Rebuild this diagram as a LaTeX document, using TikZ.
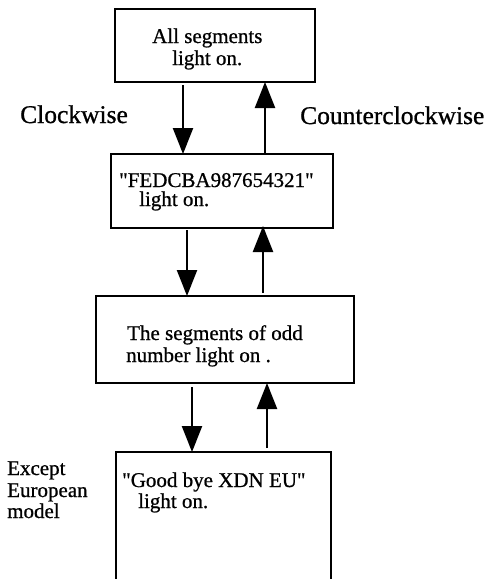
\documentclass[tikz,border=0pt]{standalone}
\usepackage{fontspec}
\setmainfont{Liberation Serif}[FakeBold=0.8,Ligatures=TeXOff]
\usetikzlibrary{arrows.meta,calc}
\newcommand{\sq}{\symbol{34}}
\begin{document}
\begin{tikzpicture}[x=1pt,y=-1pt,
  box/.style={draw,line width=2.6pt,inner sep=0pt,outer sep=0pt},
  txt/.style={anchor=base west,inner sep=0pt,font=\fontsize{21}{23}\selectfont},
  lbl/.style={anchor=base west,inner sep=0pt,font=\fontsize{25.5}{28}\selectfont},
  arr/.style={line width=2.4pt,-{Triangle[length=26pt,width=20pt]}}]
\clip (0,0) rectangle (496,579);
% boxes
\node[box,minimum width=200pt,minimum height=73pt] (b1) at (215,45.5) {};
\node[box,minimum width=222pt,minimum height=74pt] (b2) at (222,191) {};
\node[box,minimum width=258pt,minimum height=87pt] (b3) at (225,339.5) {};
\node[box,minimum width=215pt,minimum height=160pt] (b4) at (223.5,532) {};
% box texts
\node[txt] (t1a) at (152,43) {All segments};
\node[txt] (t1b) at (172,65) {light on.};
\node[txt] (t2a) at (119,187) {\sq FEDCBA987654321\sq};
\node[txt] (t2b) at (139,206) {light on.};
\node[txt] (t3a) at (127,340) {The segments of odd};
\node[txt] (t3b) at (126,362) {number light on .};
\node[txt] (t4a) at (122,487) {\sq Good bye XDN EU\sq};
\node[txt] (t4b) at (138,508) {light on.};
% side labels
\node[lbl] (cw) at (20,123) {Clockwise};
\node[lbl] (ccw) at (300,124) {Counterclockwise};
\node[txt] (ex1) at (7,475) {Except};
\node[txt] (ex2) at (7,497) {European};
\node[txt] (ex3) at (7,518) {model};
% arrows
\draw[arr] ($(b1.south west)+(68,3)$) -- ($(b2.north west)+(72,0)$);
\draw[arr] ($(b2.north west)+(154,0)$) -- ($(b1.south west)+(150,0)$);
\draw[arr] ($(b2.south west)+(76,2)$) -- ($(b3.north west)+(91,0)$);
\draw[arr] ($(b3.north west)+(167,-3)$) -- ($(b2.south west)+(152,-2)$);
\draw[arr] ($(b3.south west)+(96,4)$) -- ($(b4.north west)+(76,0)$);
\draw[arr] ($(b4.north west)+(151,-4)$) -- ($(b3.south west)+(171,0)$);
\end{tikzpicture}
\end{document}
